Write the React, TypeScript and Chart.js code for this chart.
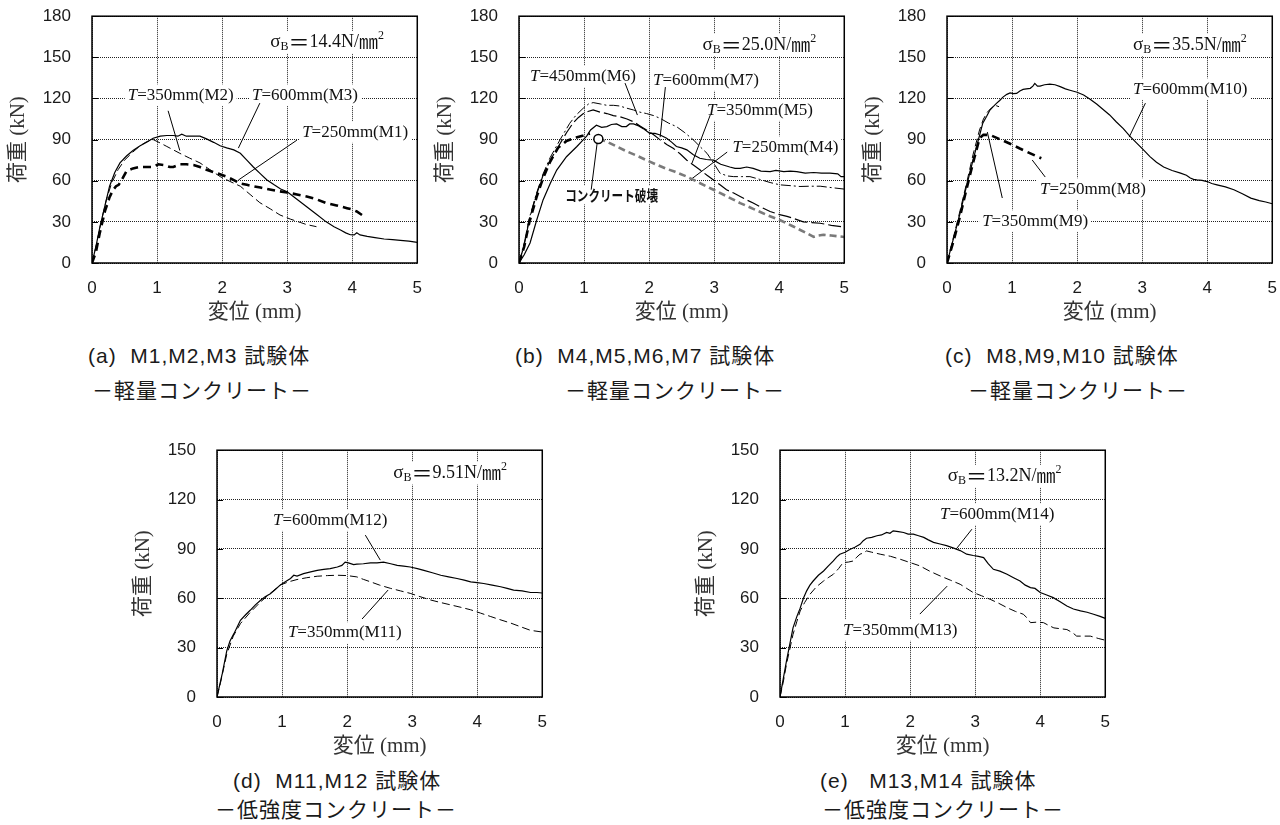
import React, { useEffect, useRef } from 'react';
import { Chart, registerables } from 'chart.js';

Chart.register(...registerables);

const SERIF = '"Liberation Serif", "Times New Roman", "Noto Sans CJK JP", serif';
const SANS = '"Liberation Sans", Arial, "Noto Sans CJK JP", sans-serif';
const CJK = '"Noto Sans CJK JP", "Noto Sans CJK SC", sans-serif';

// ---------- axis ticks ----------
const X_MIN = 0;
const X_MAX = 5;
const X_STEP = 1;
const Y_STEP = 30;
const Y_MAX_TOP = 180;
const Y_MAX_BOTTOM = 150;

// ---------- (a) M1, M2, M3 ----------
const M1_T250: number[][] = [[0,0],[0.06,8],[0.12,22],[0.2,38],[0.27,48],[0.32,53],[0.37,56],[0.41,57],[0.45,60],[0.53,67],[0.63,69],[0.73,70],[0.84,70],[0.94,70],[1.02,72],[1.1,71.5],[1.2,70],[1.25,70],[1.35,72],[1.45,72],[1.56,71.5],[1.66,70],[1.76,68],[1.92,65.5],[2.07,63],[2.18,60.5],[2.28,58],[2.38,57],[2.48,56],[2.59,55],[2.69,54],[2.85,52.5],[3.0,51.4],[3.15,50],[3.3,48.5],[3.45,46.5],[3.6,43.7],[3.76,42],[3.92,40],[4.0,39],[4.07,37.6],[4.15,35]];
const M2_T350: number[][] = [[0,0],[0.07,14],[0.14,30],[0.22,46],[0.3,58],[0.4,68],[0.5,75],[0.63,81],[0.74,85.5],[0.84,88.5],[0.94,90],[1.05,87.5],[1.15,85],[1.25,82.5],[1.35,80],[1.5,76.5],[1.66,73],[1.8,68.5],[1.97,63],[2.12,59.5],[2.28,56],[2.43,50],[2.58,44],[2.74,39.5],[2.89,35],[3.05,32],[3.2,29.6],[3.3,28],[3.45,26.5]];
const M3_T600: number[][] = [[0,0],[0.06,12],[0.12,26],[0.2,42],[0.27,56],[0.35,66],[0.43,73],[0.53,78],[0.63,82],[0.74,85.5],[0.84,88],[0.94,91],[1.05,92.5],[1.15,93],[1.25,93],[1.32,92.5],[1.38,94],[1.45,92.5],[1.55,92.5],[1.66,92.5],[1.76,90.5],[1.87,88],[1.97,85.5],[2.07,84],[2.18,82.5],[2.28,80],[2.38,75],[2.48,70],[2.59,65],[2.69,60.6],[2.8,57],[2.9,54],[3.0,52],[3.15,46.5],[3.3,41],[3.45,35.5],[3.6,30],[3.72,26.5],[3.82,24],[3.9,22],[3.97,20.6],[4.03,20.5],[4.07,22],[4.12,20.5],[4.23,19.4],[4.35,18.5],[4.49,17.5],[4.62,17],[4.74,16.5],[4.87,16],[5.0,15]];

// ---------- (b) M4, M5, M6, M7 ----------
const M4_T250_PRE: number[][] = [[0,0],[0.08,12],[0.16,30],[0.27,48],[0.37,62],[0.48,74],[0.6,84],[0.73,89],[0.88,91.5],[0.99,93],[1.09,94.5]];
const M4_T250_POST: number[][] = [[1.22,90.5],[1.35,88.5],[1.5,85],[1.65,81.5],[1.8,78.5],[1.96,75],[2.1,72],[2.25,69],[2.4,66.5],[2.58,63],[2.75,59],[2.9,55.5],[2.99,53.4],[3.2,48.5],[3.4,43.7],[3.6,39.5],[3.81,35],[4.0,31.5],[4.2,27],[4.42,21.8],[4.53,19],[4.6,20],[4.68,20.6],[4.8,20],[5.0,19]];
const M4_FAILURE: number[][] = [[1.22,90.5]];
const M5_T350: number[][] = [[0,0],[0.08,13],[0.16,32],[0.27,50],[0.37,64],[0.48,75],[0.63,87],[0.73,95],[0.83,102],[0.91,106],[0.99,109],[1.06,110.5],[1.14,111.6],[1.25,110],[1.35,109],[1.45,107.5],[1.55,106.7],[1.66,105],[1.76,103],[1.86,100],[1.96,97],[2.07,93.5],[2.17,89.8],[2.27,86.5],[2.37,83.7],[2.48,79.5],[2.58,75],[2.68,71.5],[2.78,68],[2.89,64],[2.99,60.6],[3.09,57],[3.19,53.4],[3.3,51],[3.4,48.5],[3.5,46],[3.6,43.7],[3.73,40.5],[3.86,37.6],[3.99,35.5],[4.12,34],[4.25,32],[4.37,30],[4.5,29.5],[4.63,29],[4.8,27.5],[5.0,26.2]];
const M6_T450: number[][] = [[0,0],[0.08,14],[0.16,33],[0.27,51],[0.37,65],[0.48,77],[0.63,89.8],[0.78,101.9],[0.88,108],[0.99,113],[1.07,116],[1.14,117],[1.25,116],[1.35,115],[1.45,115],[1.55,114.5],[1.65,113],[1.76,111.6],[1.86,110],[1.96,109],[2.07,107.5],[2.17,105.5],[2.3,102],[2.42,99.5],[2.55,95],[2.68,89.8],[2.78,85],[2.89,80],[2.99,73],[3.09,65.5],[3.2,63.5],[3.3,63],[3.42,63],[3.55,63],[3.7,61],[3.86,58.7],[4.01,57],[4.15,56.5],[4.32,55.8],[4.47,56],[4.63,56],[4.8,55],[5.0,53.9]];
const M7_T600: number[][] = [[0,0],[0.08,6],[0.17,14.6],[0.27,31],[0.37,46],[0.48,58],[0.58,67.8],[0.73,77.5],[0.89,85],[0.99,90],[1.04,92.5],[1.1,97],[1.19,100.5],[1.27,99],[1.35,99.5],[1.42,101],[1.5,101.4],[1.58,99.5],[1.65,99.5],[1.7,101.4],[1.76,101.4],[1.84,100],[1.91,98],[2.01,94.6],[2.09,94.5],[2.17,93.4],[2.27,91],[2.35,88],[2.42,85],[2.5,84],[2.58,82.5],[2.68,79],[2.78,76.4],[2.88,75.5],[2.99,75],[3.1,72],[3.24,70],[3.32,69],[3.4,69],[3.5,70],[3.6,69],[3.72,67],[3.86,66.7],[3.95,67.5],[4.07,66.7],[4.17,67],[4.27,66.7],[4.4,65.5],[4.53,66],[4.65,65.5],[4.78,65.5],[4.9,65],[4.95,63],[5.0,63]];

// ---------- (c) M8, M9, M10 ----------
const M8_T250: number[][] = [[0,0],[0.1,16],[0.2,34],[0.3,54],[0.4,73],[0.5,91],[0.56,93.5],[0.66,93.4],[0.8,90.5],[0.97,87],[1.12,83.5],[1.28,80],[1.37,78],[1.45,76.4]];
const M9_T350: number[][] = [[0,0],[0.1,19],[0.2,38],[0.3,58],[0.4,79],[0.5,97],[0.56,105],[0.62,110],[0.68,113],[0.74,115],[0.8,114]];
const M10_T600: number[][] = [[0,0],[0.1,18],[0.2,36],[0.3,56],[0.4,75],[0.5,93],[0.55,102],[0.61,107],[0.66,111.6],[0.71,114],[0.76,116.4],[0.81,118.5],[0.86,121],[0.92,123],[0.97,124],[1.02,123.5],[1.07,123.7],[1.12,125.5],[1.17,126.6],[1.22,127],[1.28,127.4],[1.32,129],[1.35,131],[1.39,129],[1.43,129],[1.5,130],[1.58,130.5],[1.66,130],[1.74,128.6],[1.82,127],[1.89,126],[2.0,124.5],[2.1,122.5],[2.2,119.5],[2.3,116],[2.4,112],[2.5,108],[2.6,103],[2.71,98],[2.81,92.5],[2.92,87.3],[3.02,82.5],[3.12,77.6],[3.22,73.5],[3.33,70],[3.46,67.5],[3.59,65.5],[3.68,64],[3.74,62],[3.79,61],[3.84,60.6],[3.92,60.3],[4.0,59.4],[4.07,58],[4.15,57],[4.28,55.5],[4.41,53.4],[4.54,50.5],[4.67,47.3],[4.8,45.5],[4.9,44.5],[5.0,43.2]];

// ---------- (d) M11, M12 ----------
const M11_T350: number[][] = [[0,0],[0.05,8],[0.1,17],[0.15,26],[0.25,37],[0.36,44.6],[0.5,51],[0.67,57.8],[0.82,63],[0.97,68],[1.1,70],[1.23,71.4],[1.38,72.5],[1.54,73.4],[1.7,73.8],[1.85,74],[2.0,73.8],[2.15,73],[2.25,71.5],[2.36,70],[2.5,68],[2.67,66],[2.82,64.5],[2.97,63],[3.12,61],[3.28,59],[3.43,57.5],[3.59,56],[3.75,54.5],[3.9,53],[4.05,51],[4.2,49],[4.35,47],[4.51,45],[4.66,42.8],[4.82,40.5],[5.0,39.5]];
const M12_T600: number[][] = [[0,0],[0.04,7],[0.08,14],[0.15,28],[0.2,34],[0.26,38.5],[0.36,46.6],[0.44,50],[0.51,52.7],[0.59,56],[0.67,58.8],[0.74,61],[0.82,62.8],[0.9,65.5],[0.97,68],[1.05,70],[1.13,72],[1.18,74],[1.23,73.5],[1.33,75],[1.44,76],[1.54,77],[1.64,77.6],[1.74,78],[1.85,79],[1.92,80],[1.97,82],[2.02,81.5],[2.1,80.5],[2.15,80.7],[2.25,81],[2.36,81.5],[2.46,81.5],[2.56,82],[2.67,81],[2.77,80],[2.87,79.5],[2.97,79],[3.08,78],[3.18,77],[3.31,75.5],[3.44,74],[3.56,73],[3.69,72],[3.8,71],[3.9,70],[4.0,69.5],[4.1,69],[4.23,68],[4.36,67],[4.46,66],[4.56,65],[4.69,64.5],[4.82,63.5],[4.92,63.5],[5.0,63.2]];

// ---------- (e) M13, M14 ----------
const M13_T350: number[][] = [[0,0],[0.05,9],[0.1,20],[0.15,29],[0.2,38],[0.26,46],[0.31,52.3],[0.38,57.5],[0.46,62.4],[0.56,67],[0.67,70.5],[0.74,72.5],[0.82,74.6],[0.9,78],[0.97,81.7],[1.05,82],[1.13,82.7],[1.18,85],[1.23,86.8],[1.28,87.5],[1.33,88.8],[1.41,88],[1.54,86.8],[1.7,85.5],[1.85,83.7],[2.0,81.7],[2.15,79.7],[2.3,76.5],[2.46,73.6],[2.62,71],[2.77,68.5],[2.87,66],[2.97,63.5],[3.1,61.5],[3.23,59.4],[3.36,57],[3.49,54.3],[3.62,52],[3.74,50.3],[3.8,48],[3.85,45.2],[3.95,45.5],[4.05,45.2],[4.13,43.5],[4.21,42],[4.31,41.5],[4.41,41],[4.5,39],[4.56,37],[4.67,37],[4.77,37],[4.9,35.5],[5.0,34.5]];
const M14_T600: number[][] = [[0,0],[0.05,11],[0.1,22],[0.15,32],[0.2,42],[0.26,49],[0.31,54],[0.36,60],[0.41,64.5],[0.46,68],[0.51,70.5],[0.59,74],[0.67,76.6],[0.74,79.5],[0.82,82.7],[0.87,85],[0.92,86.8],[1.0,88],[1.08,89.8],[1.15,91],[1.23,92.8],[1.28,95],[1.33,96.5],[1.41,97],[1.49,98],[1.56,98.5],[1.64,100],[1.69,99.5],[1.74,101],[1.82,100.5],[1.9,100],[1.97,99],[2.05,99],[2.13,98],[2.21,97],[2.28,95.5],[2.36,94],[2.46,93],[2.56,92],[2.67,90.5],[2.77,89],[2.87,86.8],[2.97,86],[3.05,85.5],[3.13,84.7],[3.2,81],[3.28,77.6],[3.38,76.5],[3.49,74.6],[3.59,72.5],[3.69,70.5],[3.77,68],[3.85,66.5],[3.92,66],[4.0,63.5],[4.1,62],[4.2,60.4],[4.3,58],[4.41,55.3],[4.51,53.5],[4.62,52.3],[4.72,51.5],[4.82,50.3],[4.92,49],[5.0,47.8]];

// ---------- texts ----------
const SIGMA_VALUES = ['14.4', '25.0', '35.5', '9.51', '13.2'];
const CAPTIONS_1 = ['(a)  M1,M2,M3 試験体', '(b)  M4,M5,M6,M7 試験体', '(c)  M8,M9,M10 試験体', '(d)  M11,M12 試験体', '(e)   M13,M14 試験体'];
const CAPTIONS_2 = ['－軽量コンクリート－', '－軽量コンクリート－', '－軽量コンクリート－', '－低強度コンクリート－', '－低強度コンクリート－'];

// ---------- styles ----------
type Style = { color?: string; width: number; dash: number[] };
const SOLID: Style = { width: 1.2, dash: [] };
const THIN_DASH: Style = { width: 1, dash: [8, 4] };
const THICK_DASH: Style = { width: 2.6, dash: [8, 5] };
const DASH_DOT: Style = { width: 1, dash: [10, 3, 2, 3] };
const LONG_DASH: Style = { width: 1.2, dash: [13, 4] };
const GRAY_DASH: Style = { color: '#7a7a7a', width: 2.6, dash: [7, 4] };

function line(data: number[][], s: Style) {
  return {
    data,
    showLine: true,
    pointRadius: 0,
    pointHoverRadius: 0,
    borderColor: s.color || '#000',
    backgroundColor: s.color || '#000',
    borderWidth: s.width,
    borderDash: s.dash,
    fill: false,
    tension: 0,
  };
}

type Part = { t: string; fam?: string; italic?: boolean; bold?: boolean; size?: number; dy?: number };
type Label = { x: number; y: number; size: number; fam: string; parts: Part[]; sx?: number; bold?: boolean };
type Decor = { labels: Label[]; leaders: number[][] };

const tLabel = (x: number, y: number, rest: string): Label => ({
  x, y, size: 17, fam: SERIF, parts: [{ t: 'T', italic: true }, { t: rest }],
});
const sigmaLabel = (x: number, y: number, val: string): Label => ({
  x, y, size: 18, fam: SERIF,
  parts: [
    { t: 'σ', size: 19 },
    { t: 'B', size: 12, dy: 5 },
    { t: '＝', fam: CJK, size: 21 },
    { t: val + 'N/' },
    { t: '㎜', fam: CJK, size: 19 },
    { t: '2', size: 12, dy: -6 },
  ],
});

function fontOf(p: Part, lab: Label) {
  const size = p.size || lab.size;
  const fam = p.fam || lab.fam;
  return `${p.italic ? 'italic ' : ''}${p.bold || lab.bold ? 'bold ' : ''}${size}px ${fam}`;
}

function makeDecor(decor: Decor) {
  return {
    id: 'decor',
    beforeDatasetsDraw(chart: any) {
      const ctx = chart.ctx as CanvasRenderingContext2D;
      const xs = chart.scales.x;
      const ys = chart.scales.y;
      ctx.save();
      decor.labels.forEach((lab) => {
        const px = xs.getPixelForValue(lab.x);
        const py = ys.getPixelForValue(lab.y);
        const sx = lab.sx ?? 1;
        const widths = lab.parts.map((p) => {
          ctx.font = fontOf(p, lab);
          return ctx.measureText(p.t).width * sx;
        });
        const w = widths.reduce((a, b) => a + b, 0);
        const h = lab.size * 1.15;
        ctx.fillStyle = '#fff';
        ctx.fillRect(px - 3, py - h / 2 - 1, w + 6, h + 2);
        ctx.fillStyle = '#111';
        ctx.textBaseline = 'middle';
        ctx.textAlign = 'left';
        let cx = px;
        lab.parts.forEach((p, i) => {
          ctx.font = fontOf(p, lab);
          ctx.save();
          ctx.translate(cx, py + (p.dy || 0));
          ctx.scale(sx, 1);
          ctx.fillText(p.t, 0, 0);
          ctx.restore();
          cx += widths[i];
        });
      });
      ctx.strokeStyle = '#000';
      ctx.lineWidth = 1;
      decor.leaders.forEach((l) => {
        ctx.beginPath();
        ctx.moveTo(xs.getPixelForValue(l[0]), ys.getPixelForValue(l[1]));
        ctx.lineTo(xs.getPixelForValue(l[2]), ys.getPixelForValue(l[3]));
        ctx.stroke();
      });
      ctx.restore();
    },
    afterDatasetsDraw(chart: any) {
      const ctx = chart.ctx as CanvasRenderingContext2D;
      const { left, top, right, bottom } = chart.chartArea;
      const ys = chart.scales.y;
      ctx.save();
      ctx.strokeStyle = '#000';
      ctx.lineWidth = 1;
      ys.ticks.forEach((t: any) => {
        const py = Math.round(ys.getPixelForValue(t.value)) + 0.5;
        ctx.beginPath();
        ctx.moveTo(left, py);
        ctx.lineTo(left + 6, py);
        ctx.stroke();
      });
      ctx.lineWidth = 1.5;
      ctx.strokeRect(left, top, right - left, bottom - top);
      ctx.restore();
    },
  };
}

// plot-area size and canvas base size
const PW = 325;
const PH = 247;
const CW = 425;
const CH = 330;

function makeConfig(yMax: number, datasets: any[], decor: Decor): any {
  return {
    type: 'scatter',
    data: { datasets },
    options: {
      responsive: false,
      maintainAspectRatio: false,
      animation: false,
      devicePixelRatio: 1,
      events: [],
      layout: { padding: 0 },
      plugins: { legend: { display: false }, tooltip: { enabled: false } },
      scales: {
        x: {
          type: 'linear',
          min: X_MIN,
          max: X_MAX,
          ticks: { stepSize: X_STEP, padding: 15, color: '#1a1a1a', font: { family: SANS, size: 17 } },
          grid: { color: '#222', lineWidth: 1, drawTicks: false },
          border: { display: false, dash: [1, 1] },
          title: { display: true, text: '変位 (mm)', color: '#333', font: { family: SERIF, size: 21 }, padding: { top: 0, bottom: 5 } },
          afterFit: (s: any) => { s.height = 67; },
        },
        y: {
          type: 'linear',
          min: 0,
          max: yMax,
          ticks: { stepSize: Y_STEP, padding: 21, color: '#1a1a1a', font: { family: SANS, size: 17 } },
          grid: { color: '#222', lineWidth: 1, drawTicks: false },
          border: { display: false, dash: [1, 1] },
          title: { display: true, text: '荷重 (kN)', color: '#333', font: { family: SERIF, size: 21 }, padding: { top: 6, bottom: 0 } },
          afterFit: (s: any) => { s.width = 92; },
        },
      },
    },
    plugins: [makeDecor(decor)],
  };
}

function Panel(props: { tx: number; ty: number; yMax: number; datasets: any[]; decor: Decor }) {
  const ref = useRef<HTMLCanvasElement>(null);
  useEffect(() => {
    const canvas = ref.current as HTMLCanvasElement;
    let chart = new Chart(canvas, makeConfig(props.yMax, props.datasets, props.decor));
    let ca = chart.chartArea;
    const dw = Math.round(PW - (ca.right - ca.left));
    const dh = Math.round(PH - (ca.bottom - ca.top));
    if (dw !== 0 || dh !== 0) {
      chart.destroy();
      canvas.width = CW + dw;
      canvas.height = CH + dh;
      canvas.style.width = CW + dw + 'px';
      canvas.style.height = CH + dh + 'px';
      chart = new Chart(canvas, makeConfig(props.yMax, props.datasets, props.decor));
      ca = chart.chartArea;
    }
    canvas.style.position = 'absolute';
    canvas.style.left = Math.round(props.tx - ca.left) + 'px';
    canvas.style.top = Math.round(props.ty - ca.top) + 'px';
    return () => chart.destroy();
  }, []);
  return <canvas ref={ref} width={CW} height={CH} style={{ position: 'absolute', left: props.tx - 92, top: props.ty - 16, width: CW, height: CH }} />;
}

const failurePoint = {
  data: M4_FAILURE,
  showLine: false,
  pointRadius: 4.5,
  pointBackgroundColor: '#fff',
  pointBorderColor: '#000',
  pointBorderWidth: 1.5,
};

const PANELS = [
  {
    tx: 92, ty: 16, yMax: Y_MAX_TOP,
    datasets: [line(M3_T600, SOLID), line(M2_T350, THIN_DASH), line(M1_T250, THICK_DASH)],
    decor: {
      labels: [sigmaLabel(2.74, 161, SIGMA_VALUES[0]), tLabel(0.55, 122.4, '=350mm(M2)'), tLabel(2.46, 122.4, '=600mm(M3)'), tLabel(3.23, 95.5, '=250mm(M1)')],
      leaders: [[1.17, 111, 1.35, 82], [2.58, 116.6, 2.25, 83.8], [3.15, 89.6, 2.25, 60.5]],
    },
  },
  {
    tx: 519, ty: 16, yMax: Y_MAX_TOP,
    datasets: [failurePoint, line(M7_T600, SOLID), line(M6_T450, DASH_DOT), line(M5_T350, LONG_DASH), line(M4_T250_PRE, THICK_DASH), line(M4_T250_POST, GRAY_DASH)],
    decor: {
      labels: [
        sigmaLabel(2.82, 159, SIGMA_VALUES[1]),
        tLabel(0.17, 136, '=450mm(M6)'),
        tLabel(2.06, 133.4, '=600mm(M7)'),
        tLabel(2.89, 111.5, '=350mm(M5)'),
        tLabel(3.28, 84.5, '=250mm(M4)'),
        { x: 0.71, y: 49.6, size: 14.5, fam: CJK, bold: true, sx: 0.8, parts: [{ t: 'コンクリート破壊' }] },
      ],
      leaders: [[1.63, 131.2, 1.82, 107.9], [2.25, 128.3, 2.17, 91.8], [2.94, 107.9, 2.66, 72.9], [3.2, 80.9, 2.63, 60.5], [1.2, 87, 1.11, 53.5]],
    },
  },
  {
    tx: 947, ty: 16, yMax: Y_MAX_TOP,
    datasets: [line(M10_T600, SOLID), line(M9_T350, THIN_DASH), line(M8_T250, THICK_DASH)],
    decor: {
      labels: [sigmaLabel(2.86, 159, SIGMA_VALUES[2]), tLabel(2.86, 126.8, '=600mm(M10)'), tLabel(1.43, 53.9, '=250mm(M8)'), tLabel(0.54, 30.6, '=350mm(M9)')],
      leaders: [[3.05, 116.6, 2.8, 91.8], [1.51, 62.7, 1.31, 75.1], [0.85, 47.4, 0.62, 95.5]],
    },
  },
  {
    tx: 217, ty: 450, yMax: Y_MAX_BOTTOM,
    datasets: [line(M12_T600, SOLID), line(M11_T350, THIN_DASH)],
    decor: {
      labels: [sigmaLabel(2.71, 136, SIGMA_VALUES[3]), tLabel(0.86, 107.5, '=600mm(M12)'), tLabel(1.09, 38.9, '=350mm(M11)')],
      leaders: [[2.28, 98.4, 2.51, 83.2], [2.23, 47.4, 2.63, 65]],
    },
  },
  {
    tx: 780, ty: 450, yMax: Y_MAX_BOTTOM,
    datasets: [line(M14_T600, SOLID), line(M13_T350, THIN_DASH)],
    decor: {
      labels: [sigmaLabel(2.58, 134.2, SIGMA_VALUES[4]), tLabel(2.46, 111.1, '=600mm(M14)'), tLabel(0.97, 40.7, '=350mm(M13)')],
      leaders: [[2.95, 102, 2.72, 90.5], [2.15, 50.4, 2.57, 67.4]],
    },
  },
];

const CAPTION_POS = [
  { l1: 88, l2: 92, y1: 356, y2: 391 },
  { l1: 515, l2: 565, y1: 356, y2: 391 },
  { l1: 945, l2: 968, y1: 356, y2: 391 },
  { l1: 233, l2: 215, y1: 781, y2: 810 },
  { l1: 820, l2: 822, y1: 781, y2: 810 },
];

const capStyle = (left: number, cy: number): React.CSSProperties => ({
  position: 'absolute',
  left,
  top: cy - 14,
  height: 28,
  lineHeight: '28px',
  fontFamily: SANS,
  fontSize: 21,
  letterSpacing: '1px',
  color: '#1a1a1a',
  whiteSpace: 'pre',
});

export default function App() {
  return (
    <div style={{ position: 'absolute', left: 0, top: 0, width: 1280, height: 825, overflow: 'hidden', background: '#fff' }}>
      {PANELS.map((p, i) => (
        <Panel key={i} tx={p.tx} ty={p.ty} yMax={p.yMax} datasets={p.datasets} decor={p.decor} />
      ))}
      {CAPTION_POS.map((c, i) => (
        <React.Fragment key={'c' + i}>
          <div style={capStyle(c.l1, c.y1)}>{CAPTIONS_1[i]}</div>
          <div style={capStyle(c.l2, c.y2)}>{CAPTIONS_2[i]}</div>
        </React.Fragment>
      ))}
    </div>
  );
}
